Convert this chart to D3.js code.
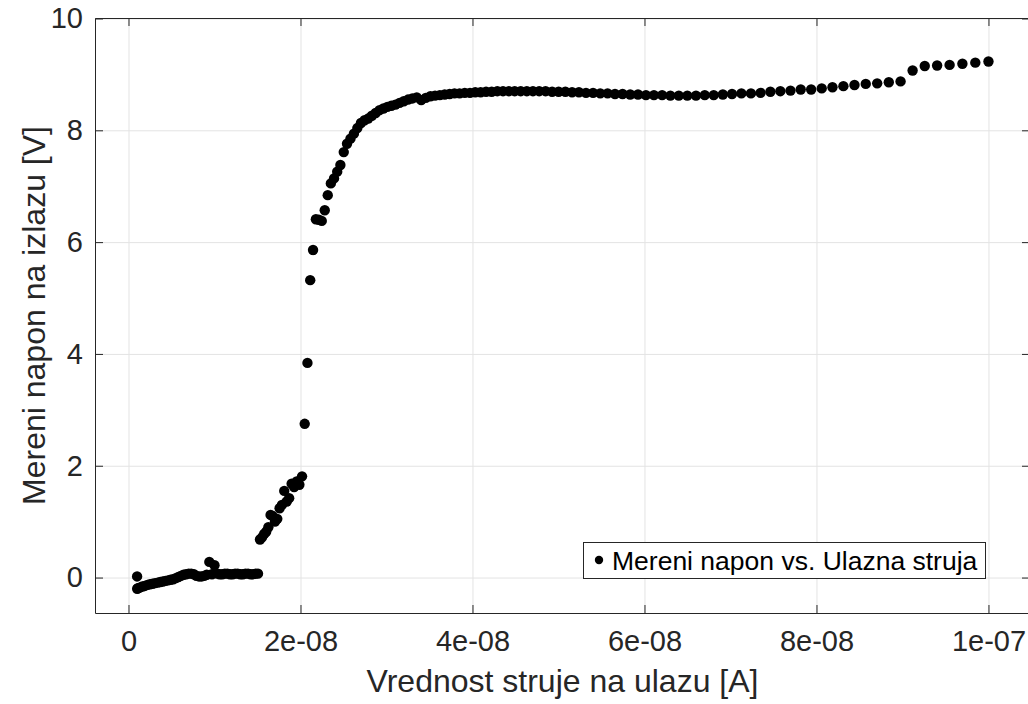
<!DOCTYPE html>
<html>
<head>
<meta charset="utf-8">
<script src="https://cdn.jsdelivr.net/npm/d3@7/dist/d3.min.js"></script>
<style>
  html, body { margin: 0; padding: 0; background: #fff; }
  svg { display: block; font-family: "Liberation Sans", Arial, Helvetica, sans-serif; }
</style>
</head>
<body>
<svg id="chart" width="1028" height="704"></svg>
<script>
// ---- data (current in units of 1e-8 A, voltage in V) ----
const lowCurrent = [0.100, 0.101, 0.11, 0.13, 0.16, 0.19, 0.22, 0.25, 0.28, 0.31, 0.34, 0.37, 0.40, 0.43, 0.46, 0.49, 0.52, 0.55, 0.58, 0.61, 0.64, 0.67, 0.70, 0.73, 0.76, 0.79, 0.82, 0.85, 0.88, 0.91, 0.94, 0.97, 1.00, 1.03, 1.06, 1.09, 1.12, 1.15, 1.18, 1.21, 1.24, 1.27, 1.30, 1.33, 1.36, 1.39, 1.42, 1.45, 1.48, 1.506];
const lowVoltage = [0.02, -0.20, -0.19, -0.18, -0.16, -0.15, -0.13, -0.12, -0.11, -0.10, -0.09, -0.08, -0.07, -0.06, -0.05, -0.04, -0.03, -0.01, 0.01, 0.03, 0.05, 0.06, 0.07, 0.07, 0.06, 0.03, 0.02, 0.02, 0.03, 0.05, 0.28, 0.06, 0.22, 0.07, 0.06, 0.06, 0.07, 0.07, 0.06, 0.06, 0.07, 0.07, 0.06, 0.06, 0.07, 0.07, 0.06, 0.06, 0.07, 0.07];

const riseCurrent = [1.529, 1.553, 1.577, 1.601, 1.626, 1.652, 1.677, 1.703, 1.730, 1.757, 1.784, 1.811, 1.840, 1.868, 1.897, 1.926, 1.956, 1.987, 2.018, 2.049, 2.081, 2.113, 2.146, 2.179, 2.213, 2.247, 2.282, 2.317, 2.353, 2.390, 2.427, 2.464, 2.503, 2.541, 2.581, 2.621, 2.661, 2.703, 2.745, 2.787, 2.830, 2.874, 2.919, 2.964, 3.010, 3.057, 3.104, 3.152, 3.201, 3.251, 3.301, 3.352, 3.404];
const riseVoltage = [0.68, 0.72, 0.78, 0.82, 0.90, 1.12, 1.10, 1.00, 1.05, 1.24, 1.30, 1.55, 1.36, 1.42, 1.68, 1.62, 1.72, 1.66, 1.81, 2.75, 3.84, 5.32, 5.86, 6.41, 6.40, 6.38, 6.57, 6.84, 7.05, 7.14, 7.26, 7.38, 7.61, 7.76, 7.85, 7.94, 8.04, 8.13, 8.18, 8.21, 8.26, 8.31, 8.36, 8.39, 8.42, 8.44, 8.46, 8.49, 8.52, 8.55, 8.57, 8.59, 8.54];

const plateauCurrent = [3.457, 3.511, 3.565, 3.620, 3.677, 3.734, 3.791, 3.850, 3.910, 3.971, 4.032, 4.095, 4.158, 4.223, 4.289, 4.355, 4.423, 4.491, 4.561, 4.632, 4.703, 4.776, 4.850, 4.926, 5.002, 5.080, 5.158, 5.238, 5.320, 5.402, 5.486, 5.571, 5.657, 5.745, 5.834, 5.925, 6.017, 6.110, 6.205, 6.301, 6.399, 6.498, 6.599, 6.701, 6.805, 6.911, 7.018, 7.127, 7.238, 7.350, 7.464, 7.580, 7.698, 7.817, 7.938, 8.061, 8.186, 8.313, 8.442, 8.573, 8.706, 8.841, 8.978, 9.118, 9.259, 9.403, 9.548, 9.697, 9.847, 10.000];
const plateauVoltage = [8.58, 8.61, 8.62, 8.63, 8.64, 8.65, 8.66, 8.66, 8.67, 8.67, 8.68, 8.68, 8.69, 8.69, 8.70, 8.70, 8.70, 8.70, 8.70, 8.70, 8.70, 8.70, 8.70, 8.69, 8.69, 8.69, 8.68, 8.68, 8.67, 8.67, 8.66, 8.66, 8.65, 8.65, 8.64, 8.64, 8.63, 8.63, 8.63, 8.62, 8.62, 8.62, 8.62, 8.63, 8.63, 8.64, 8.65, 8.66, 8.66, 8.67, 8.69, 8.70, 8.71, 8.73, 8.73, 8.75, 8.77, 8.79, 8.81, 8.83, 8.84, 8.86, 8.875, 9.07, 9.15, 9.16, 9.17, 9.19, 9.21, 9.23];

const xTickValues = [0, 2e-8, 4e-8, 6e-8, 8e-8, 1e-7];
const xTickLabels = ["0", "2e-08", "4e-08", "6e-08", "8e-08", "1e-07"];
const yTickValues = [0, 2, 4, 6, 8, 10];
const yTickLabels = ["0", "2", "4", "6", "8", "10"];

const xLabel = "Vrednost struje na ulazu [A]";
const yLabel = "Mereni napon na izlazu [V]";
const legendLabel = "Mereni napon vs. Ulazna struja";

(function draw() {
  const current = lowCurrent.concat(riseCurrent, plateauCurrent);
  const voltage = lowVoltage.concat(riseVoltage, plateauVoltage);
  const points = current.map((c, i) => ({ x: c * 1e-8, y: voltage[i] }));

  const svg = d3.select("#chart");
  const pL = 95, pR = 1030, pT = 18, pB = 613;
  const W = pR - pL, H = pB - pT;
  const axisColor = "#262626";
  const gridColor = "#e3e3e3";

  const x = d3.scaleLinear().domain([-0.3895e-8, 10.483e-8]).range([pL, pR]);
  const y = d3.scaleLinear().domain([-0.6339, 10.0089]).range([pB, pT]);

  // grid
  svg.append("g").attr("transform", `translate(0,${pB})`)
    .call(d3.axisBottom(x).tickValues(xTickValues).tickSize(-H).tickFormat(""))
    .call(g => { g.select(".domain").remove(); g.selectAll("line").attr("stroke", gridColor).attr("stroke-width", 1); });
  svg.append("g").attr("transform", `translate(${pL},0)`)
    .call(d3.axisLeft(y).tickValues(yTickValues).tickSize(-W).tickFormat(""))
    .call(g => { g.select(".domain").remove(); g.selectAll("line").attr("stroke", gridColor).attr("stroke-width", 1); });

  // points
  svg.append("g").selectAll("circle").data(points).join("circle")
    .attr("cx", d => x(d.x)).attr("cy", d => y(d.y)).attr("r", 5.2).attr("fill", "#000");

  // axes
  const styleAxis = g => {
    g.select(".domain").attr("stroke", axisColor).attr("stroke-width", 1);
    g.selectAll(".tick line").attr("stroke", axisColor).attr("stroke-width", 1);
    g.selectAll("text").attr("fill", axisColor).attr("font-size", 29)
      .attr("font-family", '"Liberation Sans", Arial, Helvetica, sans-serif');
  };
  svg.append("g").attr("transform", `translate(0,${pB})`)
    .call(d3.axisBottom(x).tickValues(xTickValues).tickFormat((d, i) => xTickLabels[i]).tickSizeInner(-8).tickSizeOuter(0).tickPadding(17))
    .call(styleAxis);
  svg.append("g").attr("transform", `translate(0,${pT})`)
    .call(d3.axisTop(x).tickValues(xTickValues).tickFormat("").tickSizeInner(-8).tickSizeOuter(0))
    .call(styleAxis);
  svg.append("g").attr("transform", `translate(${pL},0)`)
    .call(d3.axisLeft(y).tickValues(yTickValues).tickFormat((d, i) => yTickLabels[i]).tickSizeInner(-8).tickSizeOuter(0).tickPadding(12))
    .call(styleAxis);
  svg.append("g").attr("transform", `translate(${pR},0)`)
    .call(d3.axisRight(y).tickValues(yTickValues).tickFormat("").tickSizeInner(-8).tickSizeOuter(0))
    .call(styleAxis);

  // axis labels
  svg.append("text").attr("x", (pL + pR) / 2).attr("y", 692)
    .attr("text-anchor", "middle").attr("font-size", 32).attr("fill", axisColor).text(xLabel);
  svg.append("text").attr("transform", `translate(45,${(pT + pB) / 2}) rotate(-90)`)
    .attr("text-anchor", "middle").attr("font-size", 32).attr("fill", axisColor).text(yLabel);

  // legend
  const lg = svg.append("g");
  lg.append("rect").attr("x", 583.5).attr("y", 542.5).attr("width", 402).attr("height", 36)
    .attr("fill", "#fff").attr("stroke", axisColor).attr("stroke-width", 1);
  lg.append("circle").attr("cx", 599).attr("cy", 560).attr("r", 4.2).attr("fill", "#000");
  lg.append("text").attr("x", 612).attr("y", 569.5).attr("font-size", 26.5).attr("fill", "#000").text(legendLabel);
})();
</script>
</body>
</html>
